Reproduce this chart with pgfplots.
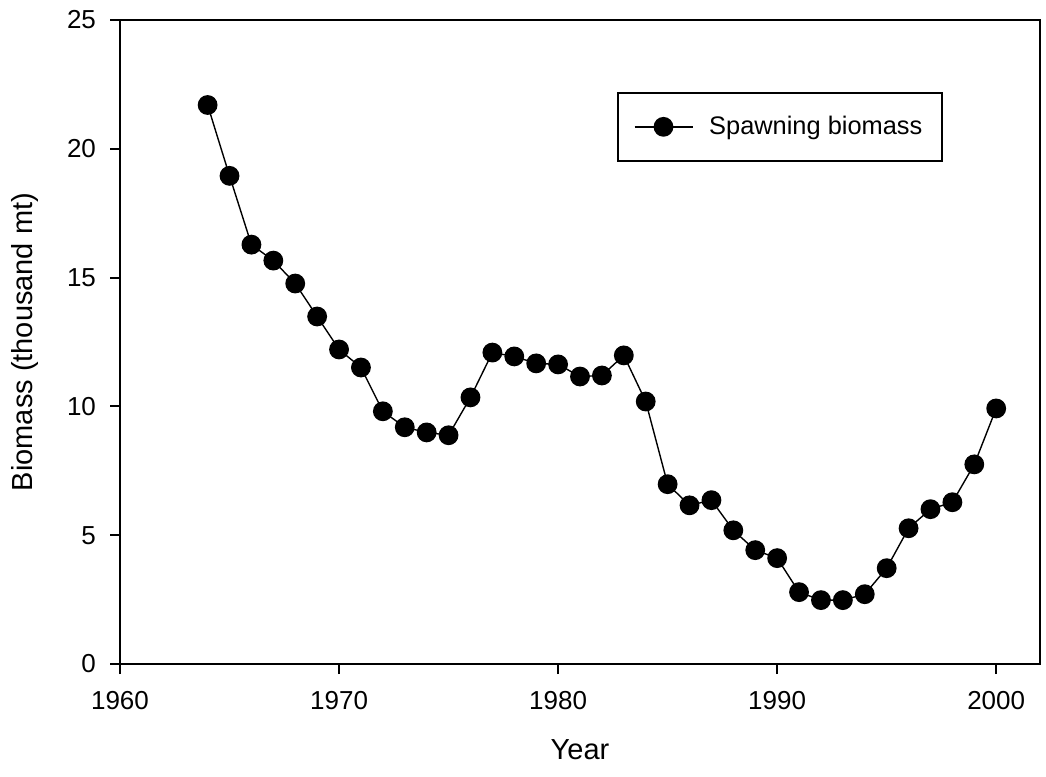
\documentclass[border=0pt]{standalone}
\usepackage{fontspec}
\setmainfont{Liberation Sans}
\usepackage{pgfplots}
\pgfplotsset{compat=1.18}
\begin{document}
\begin{tikzpicture}
\begin{axis}[
  scale only axis,
  width=460pt, height=322pt,
  xmin=1960, xmax=2002, ymin=0, ymax=25,
  xtick={1960,1970,1980,1990,2000},
  ytick={0,5,10,15,20,25},
  tick align=outside,
  tick pos=left,
  major tick length=5pt,
  axis line style={line width=1pt},
  every tick/.style={line width=1pt, black},
  tick label style={font=\fontsize{13}{15}\selectfont},
  xticklabel style={yshift=-5pt},
  yticklabel style={xshift=-3.5pt},
  /pgf/number format/assume math mode=true,
  /pgf/number format/1000 sep={},
  xlabel={Year}, ylabel={Biomass (thousand mt)},
  label style={font=\fontsize{14.5}{16}\selectfont},
  xlabel style={at={(axis description cs:0.5,-0.1335)}, anchor=center},
  ylabel style={at={(axis description cs:-0.1033,0.5)}, anchor=center},
  legend style={at={(0.540,0.888)}, anchor=north west, draw=black, line width=1pt,
    font=\fontsize{12.7}{15}\selectfont, inner xsep=8pt, inner ysep=9.5pt,
    /tikz/every odd column/.append style={column sep=6pt}},
  legend cell align=left,
  legend image code/.code={\draw[#1,mark repeat=2,mark phase=2] plot coordinates {(0pt,0pt)(14.5pt,0pt)(29pt,0pt)};},
]
\addplot[black, line width=0.7pt, mark=*, mark size=4.6pt, mark options={fill=black}] coordinates {
(1964,21.7) (1965,18.95) (1966,16.28) (1967,15.66) (1968,14.77) (1969,13.49)
(1970,12.21) (1971,11.51) (1972,9.81) (1973,9.19) (1974,8.99) (1975,8.88)
(1976,10.35) (1977,12.09) (1978,11.94) (1979,11.67) (1980,11.63) (1981,11.16)
(1982,11.2) (1983,11.98) (1984,10.19) (1985,6.98) (1986,6.16) (1987,6.36)
(1988,5.19) (1989,4.42) (1990,4.11) (1991,2.79) (1992,2.48) (1993,2.48)
(1994,2.71) (1995,3.72) (1996,5.27) (1997,6.01) (1998,6.28) (1999,7.75) (2000,9.92)
};
\addlegendentry{Spawning biomass}
\coordinate (ll) at (rel axis cs:0,0);
\coordinate (ur) at (rel axis cs:1,1);
\end{axis}
\pgfresetboundingbox
\path ([shift={(-60pt,-56pt)}]ll) rectangle ([shift={(3pt,10pt)}]ur);
\end{tikzpicture}
\end{document}
